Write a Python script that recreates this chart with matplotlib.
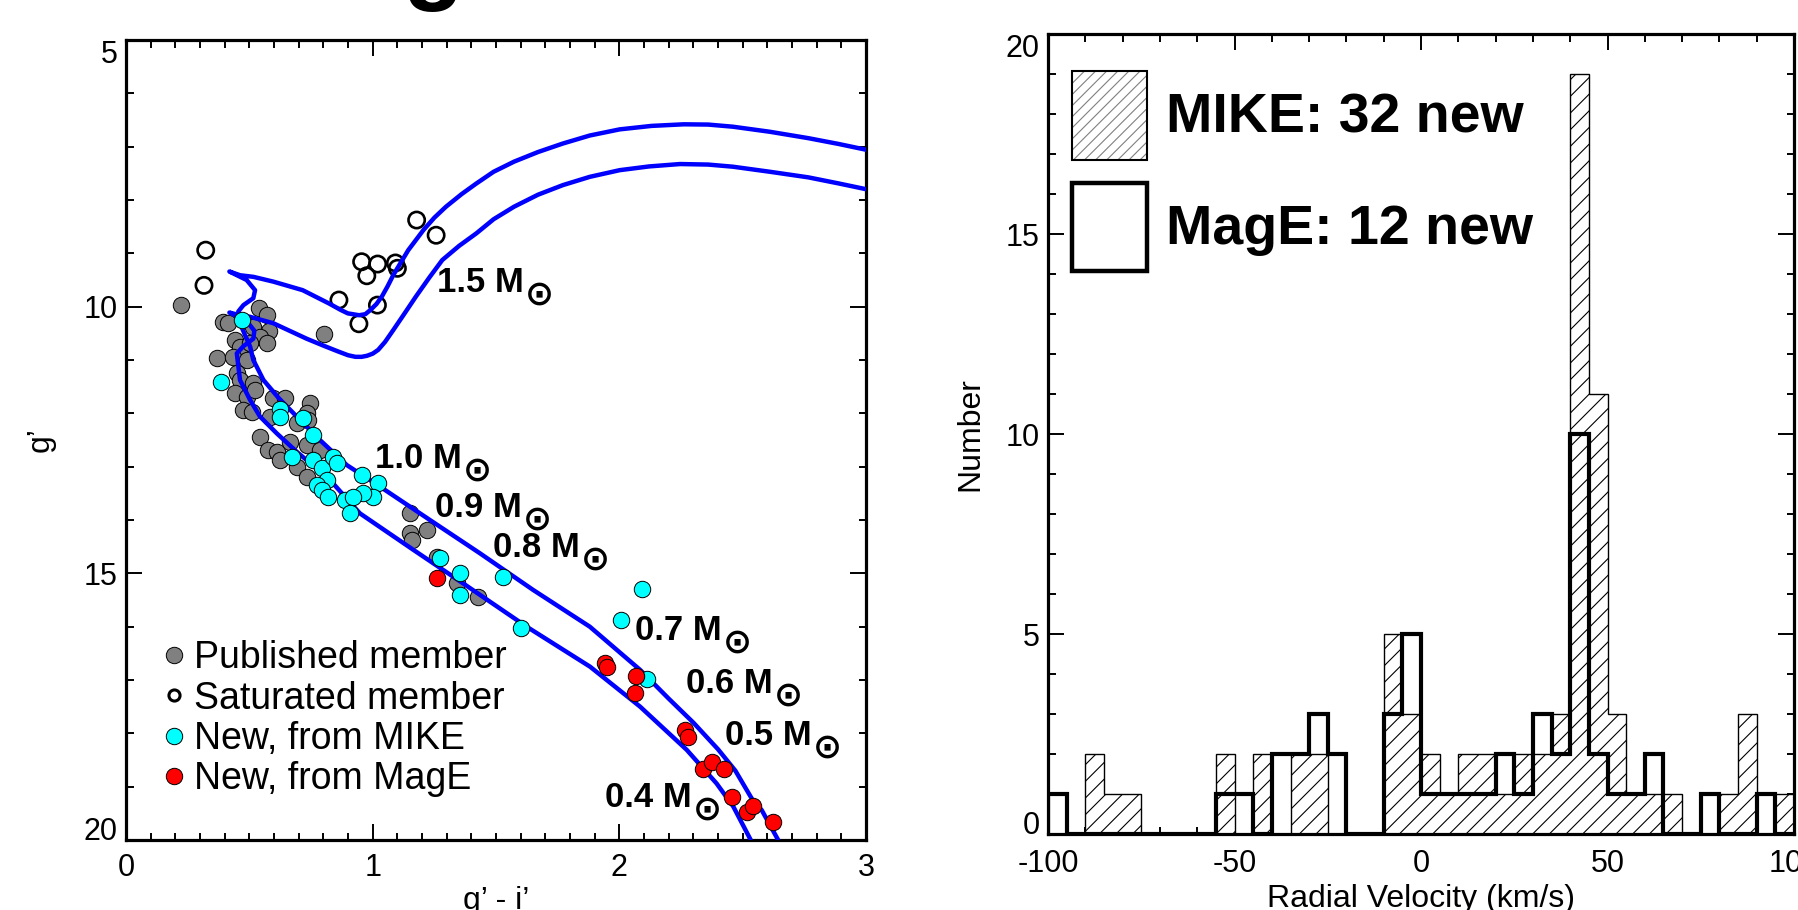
import numpy as np
import matplotlib.pyplot as plt
from matplotlib.lines import Line2D
from matplotlib.patches import Patch

plt.rcParams['font.family'] = ['Liberation Sans', 'DejaVu Sans']
plt.rcParams['hatch.linewidth'] = 0.8
plt.rcParams['axes.unicode_minus'] = False

# ---- colour-magnitude diagram data ----
pub_x = [0.222, 0.801, 0.392, 0.415, 0.537, 0.570, 0.581, 0.516, 0.543, 0.442, 0.462, 0.503, 0.570,
         0.368, 0.435, 0.489, 0.449, 0.462, 0.516, 0.442, 0.489, 0.523, 0.476, 0.597, 0.644, 0.746,
         0.732, 0.509, 0.584, 0.692, 0.739, 0.543, 0.577, 0.611, 0.665, 0.732, 0.624, 0.692, 0.732,
         0.786, 1.151, 1.219, 1.151, 1.158, 1.259, 1.340, 1.428]
pub_y = [9.96, 10.52, 10.28, 10.31, 10.03, 10.16, 10.45, 10.38, 10.56, 10.63, 10.75, 10.69, 10.69,
         10.97, 10.94, 11.0, 11.25, 11.375, 11.44, 11.62, 11.69, 11.56, 11.94, 11.72, 11.72, 11.81,
         12.0, 11.97, 12.06, 12.19, 12.125, 12.44, 12.69, 12.72, 12.53, 12.59, 12.875, 13.0, 13.19,
         12.69, 13.875, 14.19, 14.25, 14.375, 14.69, 15.19, 15.44]

sat_x = [0.323, 0.316, 1.178, 1.257, 0.955, 1.020, 0.976, 1.092, 1.100, 0.863, 1.019, 0.944]
sat_y = [8.94, 9.60, 8.375, 8.66, 9.157, 9.20, 9.42, 9.18, 9.28, 9.875, 9.97, 10.32]

mike_x = [0.469, 0.384, 0.624, 0.624, 0.719, 0.759, 0.672, 0.759, 0.793, 0.840, 0.854, 0.813, 0.773,
          0.793, 0.820, 0.955, 1.023, 1.003, 0.962, 0.888, 0.922, 0.908, 1.273, 1.354, 1.354, 1.529,
          1.600, 2.090, 2.005, 2.110]
mike_y = [10.25, 11.41, 11.91, 12.06, 12.09, 12.41, 12.81, 12.875, 13.03, 12.81, 12.94, 13.25, 13.34,
          13.44, 13.56, 13.16, 13.31, 13.56, 13.5, 13.625, 13.56, 13.875, 14.72, 15.0, 15.41, 15.06,
          16.03, 15.29, 15.875, 16.99]

mage_x = [1.259, 1.941, 1.948, 2.067, 2.063, 2.266, 2.279, 2.337, 2.374, 2.424, 2.455, 2.516, 2.543, 2.624]
mage_y = [15.08, 16.675, 16.75, 16.925, 17.25, 17.94, 18.06, 18.66, 18.53, 18.66, 19.19, 19.47, 19.36, 19.66]

# upper (brighter) isochrone
isoA_x = [2.640, 2.577, 2.540, 2.470, 2.400, 2.300, 2.200, 2.084, 1.880, 1.650, 1.435, 1.232, 1.030,
          0.895, 0.786, 0.692, 0.620, 0.557, 0.516, 0.503, 0.470, 0.455, 0.476, 0.516, 0.523, 0.489,
          0.419, 0.462, 0.516, 0.597, 0.716, 0.823, 0.870, 0.899, 0.945, 0.970, 0.991, 1.015, 1.037,
          1.060, 1.083, 1.144, 1.206, 1.250, 1.297, 1.360, 1.420, 1.490, 1.573, 1.670, 1.771, 1.880,
          2.001, 2.130, 2.261, 2.360, 2.460, 2.610, 2.766, 2.890, 3.003]
isoA_y = [19.97, 19.44, 19.25, 18.70, 18.30, 17.80, 17.35, 16.81, 16.00, 15.31, 14.625, 14.0, 13.375,
          12.97, 12.50, 12.06, 11.72, 11.375, 11.0, 10.75, 10.40, 10.09, 9.97, 9.84, 9.69, 9.50,
          9.34, 9.41, 9.44, 9.53, 9.69, 9.94, 10.06, 10.125, 10.16, 10.14, 10.06, 9.95, 9.81,
          9.62, 9.41, 8.94, 8.56, 8.33, 8.125, 7.89, 7.69, 7.47, 7.28, 7.10, 6.94, 6.79,
          6.675, 6.61, 6.58, 6.585, 6.625, 6.72, 6.84, 6.95, 7.06]

# lower (fainter) isochrone
isoB_x = [2.529, 2.462, 2.394, 2.273, 2.084, 1.881, 1.624, 1.367, 1.165, 0.948, 0.827, 0.692, 0.611,
          0.543, 0.503, 0.462, 0.449, 0.476, 0.516, 0.520, 0.489, 0.419, 0.462, 0.503, 0.597, 0.732,
          0.800, 0.860, 0.900, 0.930, 0.955, 0.977, 1.000, 1.022, 1.050, 1.083, 1.130, 1.175, 1.230,
          1.282, 1.350, 1.420, 1.490, 1.573, 1.670, 1.771, 1.880, 2.001, 2.120, 2.246, 2.360, 2.460,
          2.610, 2.766, 2.890, 3.003]
isoB_y = [19.97, 19.375, 18.94, 18.31, 17.50, 16.75, 16.0, 15.19, 14.56, 13.875, 13.25, 12.72, 12.375,
          12.06, 11.75, 11.375, 10.875, 10.74, 10.60, 10.45, 10.27, 10.11, 10.16, 10.19, 10.31, 10.60,
          10.73, 10.84, 10.91, 10.94, 10.94, 10.92, 10.88, 10.81, 10.66, 10.44, 10.12, 9.81, 9.45,
          9.125, 8.86, 8.625, 8.36, 8.125, 7.90, 7.72, 7.565, 7.44, 7.37, 7.325, 7.335, 7.375,
          7.47, 7.575, 7.69, 7.80]

mass_labels = ['1.5', '1.0', '0.9', '0.8', '0.7', '0.6', '0.5', '0.4']
mass_x = [1.259, 1.009, 1.253, 1.489, 2.063, 2.270, 2.428, 1.942]
mass_y = [9.725, 13.03, 13.94, 14.69, 16.25, 17.25, 18.22, 19.375]

# ---- radial velocity histogram data ----
rv_edges = np.arange(-100, 101, 5)
mike_counts = [0, 0, 2, 1, 1, 0, 0, 0, 0, 2, 0, 2, 0, 2, 2, 0, 0, 0, 5, 3,
               2, 1, 2, 2, 1, 2, 2, 3, 19, 11, 3, 1, 1, 1, 0, 0, 1, 3, 0, 1]
mage_counts = [1, 0, 0, 0, 0, 0, 0, 0, 0, 1, 1, 0, 2, 2, 3, 2, 0, 0, 3, 5,
               1, 1, 1, 1, 2, 1, 3, 2, 10, 2, 1, 1, 2, 0, 0, 1, 0, 0, 1, 0]

fig = plt.figure(figsize=(17.98, 9.10), dpi=100)
ax1 = fig.add_axes([0.0701, 0.0769, 0.4116, 0.8791])
ax2 = fig.add_axes([0.5829, 0.0835, 0.4149, 0.8791])


def style_axes(ax, xmaj, xmin, ymaj, ymin, xpad):
    ax.xaxis.set_major_locator(plt.MultipleLocator(xmaj))
    ax.xaxis.set_minor_locator(plt.MultipleLocator(xmin))
    ax.yaxis.set_major_locator(plt.MultipleLocator(ymaj))
    ax.yaxis.set_minor_locator(plt.MultipleLocator(ymin))
    ax.tick_params(which='both', direction='in', top=True, right=True, labelsize=22, width=1.4)
    ax.tick_params(which='major', length=11.5)
    ax.tick_params(which='minor', length=5.4)
    ax.tick_params(axis='x', pad=xpad)
    ax.tick_params(axis='y', pad=6)
    for sp in ax.spines.values():
        sp.set_linewidth(2.3)


# left panel: CMD
ax1.scatter(pub_x, pub_y, s=140, c='#808080', edgecolors='black', linewidths=0.7, zorder=2)
ax1.scatter(sat_x, sat_y, s=137, facecolors='none', edgecolors='black', linewidths=1.9, zorder=2)
ax1.plot(isoA_x, isoA_y, color='blue', lw=3.2, zorder=3, solid_joinstyle='round')
ax1.plot(isoB_x, isoB_y, color='blue', lw=3.2, zorder=3, solid_joinstyle='round')
ax1.scatter(mike_x, mike_y, s=140, c='cyan', edgecolors='black', linewidths=0.7, zorder=4)
ax1.scatter(mage_x, mage_y, s=140, c='red', edgecolors='black', linewidths=0.7, zorder=5)
for lab, mx, my in zip(mass_labels, mass_x, mass_y):
    t = ax1.text(mx, my, lab + ' M', fontsize=25, fontweight='bold', ha='left', va='baseline', zorder=6)
    # solar symbol as a subscript after the "M"
    ax1.annotate('\u2299', xy=(1, 0), xycoords=t, xytext=(0.8, 3.2), textcoords='offset points',
                 fontsize=25, fontweight='bold', family=['DejaVu Sans'], ha='left', va='center', zorder=6)

ax1.set_xlim(0, 3)
ax1.set_ylim(20, 5)
style_axes(ax1, 1, 0.1, 5, 1, 9)
ax1.set_xlabel('g\u2019 - i\u2019', fontsize=23, va='top')
ax1.xaxis.set_label_coords(0.5, -0.0575)
ax1.set_ylabel('g\u2019', fontsize=23)
ax1.yaxis.set_label_coords(-0.095, 0.5)

handles = [
    Line2D([], [], ls='none', marker='o', ms=11.8, mfc='#808080', mec='black', mew=0.7),
    Line2D([], [], ls='none', marker='o', ms=8.0, mfc='none', mec='black', mew=2.2),
    Line2D([], [], ls='none', marker='o', ms=11.8, mfc='cyan', mec='black', mew=0.7),
    Line2D([], [], ls='none', marker='o', ms=11.8, mfc='red', mec='black', mew=0.7),
]
ax1.legend(handles, ['Published member', 'Saturated member', 'New, from MIKE', 'New, from MagE'],
           loc='lower left', bbox_to_anchor=(0.0527, 0.054), frameon=False, fontsize=27,
           handlelength=0.5, handletextpad=0.28, labelspacing=0.11, borderpad=0, borderaxespad=0)

# right panel: RV histogram
ax2.stairs(mike_counts, rv_edges, fill=True, facecolor='white', edgecolor='black', lw=1.0,
           hatch='//', zorder=2)
ax2.stairs(mage_counts, rv_edges, fill=False, edgecolor='black', lw=3.0, baseline=0, zorder=3)
ax2.set_xlim(-100, 100)
ax2.set_ylim(0, 20)
style_axes(ax2, 50, 10, 5, 1, 11)
ax2.set_xlabel('Radial Velocity (km/s)', fontsize=23, va='top')
ax2.xaxis.set_label_coords(0.5, -0.0625)
ax2.set_ylabel('Number', fontsize=23)
ax2.yaxis.set_label_coords(-0.0845, 0.5)

plt.rcParams['hatch.color'] = '#808080'
mike_patch = (Patch(facecolor='white', hatch='///'), Patch(fill=False, edgecolor='black', lw=1.5))
plt.rcParams['hatch.color'] = 'black'
mage_patch = Patch(fill=False, edgecolor='black', lw=3.2)
ax2.legend([mike_patch, mage_patch], ['MIKE: 32 new', 'MagE: 12 new'], loc='upper left',
           bbox_to_anchor=(0.032, 0.954), frameon=False,
           prop={'size': 40, 'weight': 'bold'}, handlelength=1.36, handleheight=2.085,
           handletextpad=0.34, labelspacing=0.41, borderpad=0, borderaxespad=0)

# IDL-style end labels kept inside the axis range
fig.canvas.draw()
for ax in (ax1, ax2):
    y_bot, y_top = ax.get_ylim()
    for loc, tick in zip(ax.yaxis.get_majorticklocs(), ax.yaxis.get_major_ticks()):
        if np.isclose(loc, y_top):
            tick.label1.set_va('top')
        elif np.isclose(loc, y_bot):
            tick.label1.set_va('baseline')

# cropped title glyph at the very top
fig.text(0.2408, 1.010, 'g', fontsize=72, fontweight='bold', ha='center', va='baseline')

fig.savefig('out.png', dpi=100)
